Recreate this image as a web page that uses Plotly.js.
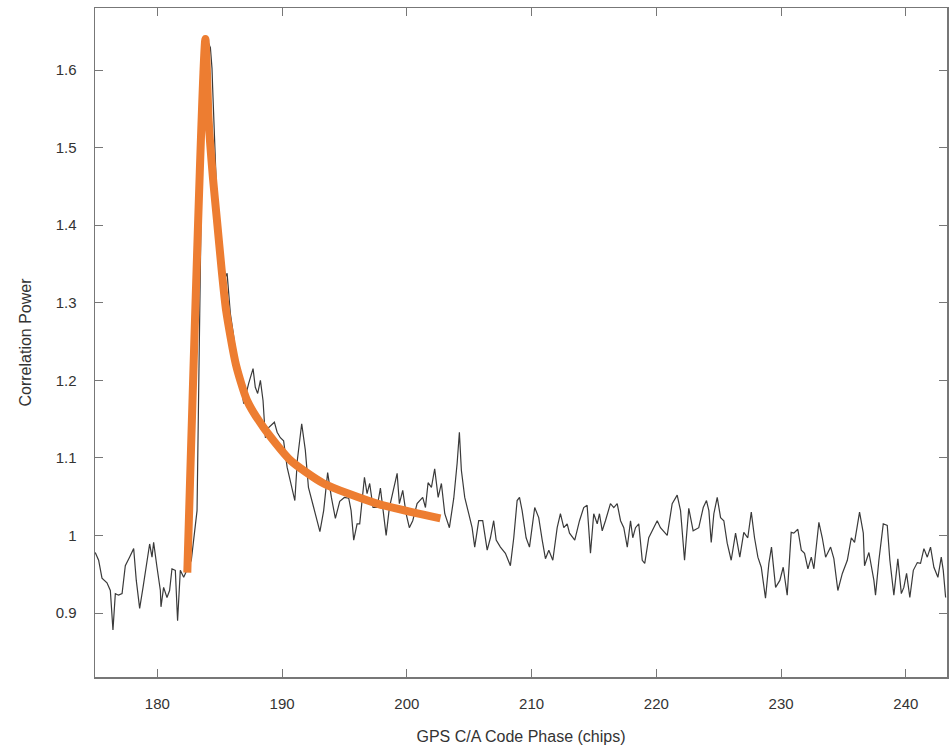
<!DOCTYPE html>
<html>
<head>
<meta charset="utf-8">
<script src="https://cdn.plot.ly/plotly-3.0.1.min.js"></script>
<style>html,body{margin:0;padding:0;background:#fff;}#chart{width:950px;height:750px;}</style>
</head>
<body>
<div id="chart"></div>
<script>
// Measured correlation power (noisy trace)
const codePhase = [
175.02,175.29,175.56,175.96,176.23,176.44,176.63,176.89,177.17,177.43,177.77,178.10,178.31,178.58,178.85,179.22,179.38,179.57,179.70,179.97,
180.24,180.29,180.50,180.77,180.98,181.17,181.44,181.62,181.84,182.11,182.38,182.72,183.18,183.28,183.52,183.81,184.01,184.25,184.38,184.43,
184.51,184.59,184.65,184.78,184.99,185.26,185.45,185.59,185.71,185.85,186.09,186.25,186.49,186.92,187.32,187.67,187.85,188.04,188.26,188.47,
188.66,188.92,189.38,189.60,189.86,190.12,190.40,190.70,191.02,191.22,191.57,191.86,192.11,192.53,193.03,193.33,193.65,193.95,194.27,194.62,
194.99,195.34,195.53,195.74,196.01,196.22,196.41,196.60,196.81,197.02,197.29,197.61,197.88,198.14,198.34,198.60,198.95,199.22,199.40,199.67,
199.94,200.20,200.47,200.82,201.27,201.49,201.70,201.97,202.23,202.51,202.77,203.04,203.41,203.76,204.03,204.21,204.37,204.64,204.96,205.23,
205.44,205.76,206.08,206.44,206.70,206.96,207.16,207.50,207.90,208.30,208.57,208.84,209.03,209.24,209.56,209.83,210.25,210.57,210.85,211.11,
211.38,211.70,212.05,212.31,212.58,212.85,213.04,213.46,213.84,214.18,214.45,214.72,214.98,215.26,215.44,215.66,215.92,216.32,216.59,216.86,
217.13,217.39,217.67,217.93,218.11,218.33,218.59,218.87,219.07,219.39,219.67,220.07,220.33,220.87,221.27,221.67,221.94,222.26,222.60,222.95,
223.40,223.76,224.02,224.21,224.40,224.61,224.88,225.15,225.41,225.68,226.00,226.35,226.69,227.01,227.33,227.61,227.87,228.14,228.41,228.75,
229.02,229.23,229.56,229.90,230.17,230.49,230.81,231.02,231.34,231.62,231.88,232.15,232.42,232.63,233.03,233.30,233.57,233.97,234.23,234.55,
234.91,235.31,235.63,235.89,236.29,236.59,236.69,237.04,237.44,237.57,237.84,238.19,238.51,238.72,239.04,239.36,239.64,239.84,240.06,240.32,
240.60,240.92,241.18,241.45,241.72,241.98,242.25,242.57,242.84,243.00,243.19
];
const power = [
0.978,0.968,0.945,0.939,0.929,0.878,0.925,0.923,0.925,0.961,0.972,0.983,0.942,0.906,0.933,0.972,0.989,0.972,0.991,0.959,
0.929,0.908,0.933,0.920,0.929,0.957,0.955,0.890,0.955,0.946,0.955,0.968,1.032,1.174,1.432,1.631,1.638,1.629,1.602,1.578,
1.548,1.513,1.479,1.428,1.384,1.357,1.333,1.338,1.312,1.286,1.260,1.238,1.219,1.170,1.196,1.215,1.191,1.183,1.200,1.174,
1.126,1.139,1.146,1.133,1.126,1.122,1.088,1.068,1.045,1.097,1.144,1.110,1.062,1.036,1.005,1.032,1.081,1.049,1.022,1.044,
1.049,1.048,1.032,0.994,1.015,1.015,1.049,1.075,1.054,1.067,1.036,1.036,1.061,1.028,1.000,1.036,1.062,1.080,1.041,1.058,
1.028,1.010,1.019,1.041,1.049,1.036,1.068,1.062,1.086,1.049,1.067,1.028,1.010,1.048,1.093,1.133,1.084,1.049,1.028,1.010,
0.985,1.019,1.019,0.981,0.997,1.019,0.994,0.985,0.977,0.961,0.997,1.045,1.049,1.032,0.997,0.985,1.036,1.023,0.994,0.970,
0.981,0.968,1.010,1.028,1.010,1.015,1.003,0.994,1.019,1.036,1.039,0.977,1.028,1.015,1.028,1.006,1.019,1.041,1.036,1.041,
1.019,1.010,0.985,1.019,0.997,1.010,1.015,0.968,0.964,0.997,1.006,1.019,1.010,1.000,1.041,1.052,1.032,0.968,1.035,1.006,
1.010,1.036,1.045,1.032,0.991,1.028,1.049,1.023,1.019,0.990,0.968,1.003,0.972,1.004,0.997,1.030,0.997,0.972,0.959,0.919,
0.964,0.985,0.933,0.942,0.959,0.923,1.004,1.003,1.008,0.981,0.977,0.957,0.972,0.957,1.017,0.997,0.972,0.985,0.970,0.929,
0.951,0.968,0.997,0.991,1.030,1.003,0.961,0.978,0.942,0.923,0.968,1.015,1.013,0.968,0.923,0.970,0.925,0.933,0.951,0.920,
0.955,0.965,0.964,0.983,0.972,0.985,0.959,0.946,0.972,0.955,0.920
];
// Fitted model curve (orange)
const fitPhase = [182.40,183.85,184.11,184.45,184.78,185.15,185.51,186.30,187.19,188.52,190.66,193.33,197.61,202.69];
const fitPower = [0.952,1.640,1.535,1.462,1.406,1.343,1.290,1.220,1.174,1.139,1.097,1.067,1.041,1.022];

const traces = [
  {x: codePhase, y: power, type: 'scatter', mode: 'lines',
   line: {color: '#3a3a3a', width: 1.2}, hoverinfo: 'x+y'},
  {x: fitPhase, y: fitPower, type: 'scatter', mode: 'lines',
   line: {color: '#ED7D31', width: 8, shape: 'spline', smoothing: 0.6}, hoverinfo: 'x+y'}
];

const axisFont = {family: 'Liberation Sans, Arial, sans-serif', size: 15, color: '#333'};
const layout = {
  width: 950, height: 750,
  margin: {l: 95, r: 3, t: 8, b: 73},
  paper_bgcolor: '#fff', plot_bgcolor: '#fff',
  showlegend: false,
  xaxis: {
    range: [175, 243.3], tickvals: [180,190,200,210,220,230,240],
    ticks: 'inside', ticklen: 8, tickcolor: '#777', tickwidth: 1,
    showline: true, linecolor: '#777', linewidth: 1.5, mirror: 'ticks',
    showgrid: false, zeroline: false, tickfont: axisFont, ticklabelstandoff: 12,
    title: {text: 'GPS C/A Code Phase (chips)', font: {family: 'Liberation Sans, Arial, sans-serif', size: 16, color: '#333'}, standoff: 20}
  },
  yaxis: {
    range: [0.8175, 1.68], tickvals: [0.9,1,1.1,1.2,1.3,1.4,1.5,1.6],
    ticktext: ['0.9','1','1.1','1.2','1.3','1.4','1.5','1.6'],
    ticks: 'inside', ticklen: 8, tickcolor: '#777', tickwidth: 1,
    showline: true, linecolor: '#777', linewidth: 1.5, mirror: 'ticks',
    showgrid: false, zeroline: false, tickfont: axisFont, ticklabelstandoff: 14,
    title: {text: 'Correlation Power', font: {family: 'Liberation Sans, Arial, sans-serif', size: 16, color: '#333'}, standoff: 20}
  }
};
Plotly.newPlot('chart', traces, layout, {displayModeBar: false, staticPlot: true});
</script>
</body>
</html>
